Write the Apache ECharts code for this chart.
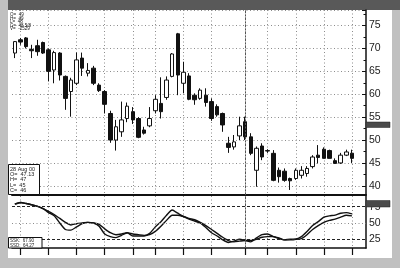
<!DOCTYPE html>
<html><head><meta charset="utf-8">
<script src="https://cdn.jsdelivr.net/npm/echarts@6/dist/echarts.min.js"></script>
<style>html,body{margin:0;padding:0;background:#c0c0c0}#c{width:400px;height:268px}</style>
</head><body><div id="c"></div>
<script>
// ---- data ----
const dates = ['2 Jun 00','5 Jun 00','6 Jun 00','7 Jun 00','8 Jun 00','9 Jun 00','12 Jun 00','13 Jun 00','14 Jun 00','15 Jun 00','16 Jun 00',
  '19 Jun 00','20 Jun 00','21 Jun 00','22 Jun 00','23 Jun 00','26 Jun 00','27 Jun 00','28 Jun 00','29 Jun 00','30 Jun 00',
  '3 Jul 00','5 Jul 00','6 Jul 00','7 Jul 00','10 Jul 00','11 Jul 00','12 Jul 00','13 Jul 00','14 Jul 00',
  '17 Jul 00','18 Jul 00','19 Jul 00','20 Jul 00','21 Jul 00','24 Jul 00','25 Jul 00','26 Jul 00','27 Jul 00','28 Jul 00',
  '31 Jul 00','1 Aug 00','2 Aug 00','3 Aug 00','4 Aug 00','7 Aug 00','8 Aug 00','9 Aug 00','10 Aug 00','11 Aug 00',
  '14 Aug 00','15 Aug 00','16 Aug 00','17 Aug 00','18 Aug 00','21 Aug 00','22 Aug 00','23 Aug 00','24 Aug 00','25 Aug 00','28 Aug 00'];
const opens  = [69.0,71.9,72.3,69.8,70.6,71.3,69.7,65.3,69.0,63.9,60.6,62.4,67.9,64.6,65.7,62.0,60.6,55.8,50.0,51.8,54.7,56.2,54.7,52.2,53.1,56.4,58.0,59.3,63.9,73.2,62.4,64.0,59.8,59.1,59.8,58.4,57.3,55.8,49.3,48.5,50.9,54.0,50.7,43.4,48.7,47.7,47.1,43.4,43.2,41.6,41.6,42.3,42.7,44.2,46.7,48.0,47.7,45.5,45.0,46.7,47.13];
const closes = [71.5,71.4,70.4,69.5,69.3,69.0,65.0,69.1,64.2,59.1,63.1,67.5,65.7,65.2,62.4,60.8,57.8,50.0,52.9,54.4,57.4,54.4,50.6,51.5,54.7,58.9,56.2,63.1,68.8,64.2,64.8,58.9,58.8,60.9,58.2,54.7,55.5,53.3,48.4,49.6,53.1,50.7,47.1,48.2,46.3,47.6,41.2,42.0,41.2,41.1,43.4,43.4,43.8,46.3,46.2,46.0,46.0,44.9,46.7,47.4,46.0];
const lows   = [67.9,70.8,70.0,67.9,68.4,68.8,62.8,62.4,63.0,56.6,55.1,62.0,64.0,63.9,62.0,60.5,55.8,49.4,47.7,50.7,53.9,53.5,50.4,51.2,52.8,55.8,54.7,58.8,63.7,59.8,60.2,58.7,57.7,58.8,57.3,54.2,55.1,51.8,47.2,47.9,50.0,50.0,46.7,39.8,45.6,47.2,41.0,40.7,40.9,39.1,41.3,41.6,42.0,43.8,44.9,46.0,46.0,44.9,44.8,46.5,45.0];
const highs  = [71.6,72.3,72.5,70.8,71.9,71.5,70.0,69.5,69.2,64.1,63.6,69.1,69.1,66.8,66.2,62.4,60.9,56.4,54.4,58.4,58.2,57.2,55.0,52.9,57.2,59.8,63.7,63.9,69.0,73.4,67.1,64.6,60.2,61.3,61.3,59.1,57.8,56.0,50.7,51.1,55.1,55.1,51.5,48.6,49.3,48.0,47.8,44.0,43.8,41.8,43.8,44.3,44.3,46.7,48.9,48.4,47.9,46.0,47.2,47.9,47.9];
const stochK = [79,81.5,80,78,75.5,72.5,66,61,50,40,39,44,49,51,50,45,33,29,27.5,31,35,30,30,30,34,44,52,62,70,65,60,56,53,50,43,35,30,24,20,22,25,23,21,27,32,33,29,26,24,24,25,29,37,46,52,59,61,62,65,66,64];
const stochD = [79,81.5,80,78,76,72,68,63,57,51,47,49,50,51,50,48,41,35,32,33,35,33,32,31,32,37,45,54,62,62,60,57,55,51,46,40,34,28,23,21,22,23,23,25,28,29,29,27,24,25,25,26,32,40,46,51,54,56,59,62,61];
const weekTicks = [1,6,11,16,21,25,30,35,41,45,50,55,60];
const monthStarts = [41];
const oscLevels = [75,50,25];
const infoTop = ['O=  49','H=  49','L=  48','C=  48 5/8','V=  -2529'];
const infoBar = ['28 Aug 00','O=  47.13','H=  47','L=  45','C=  46'];
const infoOsc = ['SSK:  67.90','SSD:  64.27'];

// ---- chart ----
const axisCats = dates.concat(['', ' ']);
const isWeek = (i) => weekTicks.indexOf(i) >= 0;
const dotted = {color:'#8c8c8c', width:1, type:[1,2.5]};
const gridLine = {show:true, interval:(i)=>isWeek(i), alignWithLabel:true, lineStyle:dotted};
const FONT = 'Liberation Sans';
const monthLines = monthStarts.map(i => ({xAxis: dates[i], label:{show:false}, lineStyle:{color:'#555', width:1, type:[2,1.5]}}));

const chart = echarts.init(document.getElementById('c'), null, {renderer:'canvas'});
function textLines(lines, x, y0, dy, size, z){
  return lines.map((t,k)=>({type:'text', x:x, y:y0+k*dy, z:z, silent:true,
    style:{text:t, fill:'#222', fontSize:size, fontFamily:FONT, align:'left', verticalAlign:'top'}}));
}
const option = {
  animation:false,
  backgroundColor:'transparent',
  grid:[{left:12, right:34, top:10, height:185}, {left:12, right:34, top:196, height:52}],
  xAxis:[
    {type:'category', gridIndex:0, data:axisCats, boundaryGap:true,
     axisLine:{show:true, lineStyle:{color:'#111', width:2}}, axisTick:{show:false}, axisLabel:{show:false}, splitLine:gridLine},
    {type:'category', gridIndex:1, data:axisCats, boundaryGap:true,
     axisLine:{show:true, lineStyle:{color:'#111', width:1.5}},
     axisTick:{show:true, inside:false, length:7, alignWithLabel:true, interval:(i)=>isWeek(i), lineStyle:{color:'#111', width:1.2}},
     axisLabel:{show:false}, splitLine:gridLine}
  ],
  yAxis:[
    {type:'value', gridIndex:0, position:'right', min:38, max:78.4, splitNumber:8, scale:true,
     axisLine:{show:true, lineStyle:{color:'#111', width:1.5}},
     axisTick:{show:true, inside:true, length:4, lineStyle:{color:'#111'}},
     minorTick:{show:true, splitNumber:2, length:2.5, lineStyle:{color:'#111'}},
     axisLabel:{showMinLabel:false, showMaxLabel:false, margin:3, color:'#222', fontSize:10.5, fontFamily:FONT},
     splitLine:{show:true, lineStyle:dotted}},
    {type:'value', gridIndex:1, position:'right', min:11.5, max:91.5, scale:true,
     axisLine:{show:true, lineStyle:{color:'#111', width:1.5}},
     axisTick:{show:false}, axisLabel:{show:false}, splitLine:{show:false}}
  ],
  series:[
    {type:'candlestick', xAxisIndex:0, yAxisIndex:0, barWidth:4,
     data: dates.map((d,i)=>[opens[i], closes[i], lows[i], highs[i]]),
     itemStyle:{color:'#ffffff', color0:'#111111', borderColor:'#111111', borderColor0:'#111111', borderWidth:1},
     markLine:{silent:true, symbol:'none', animation:false, data:monthLines}},
    {type:'line', name:'SSK', xAxisIndex:1, yAxisIndex:1, data:stochK, symbol:'none', smooth:0.2,
     lineStyle:{color:'#111', width:1.4},
     markLine:{silent:true, symbol:'none', animation:false,
       label:{position:'end', distance:3, color:'#222', fontSize:10.5, fontFamily:FONT, formatter:(p)=>String(p.value)},
       data: oscLevels.map(v => ({yAxis:v, lineStyle: v===50 ? dotted : {color:'#222', width:1, type:[3,2]}})).concat(monthLines)}},
    {type:'line', name:'SSD', xAxisIndex:1, yAxisIndex:1, data:stochD, symbol:'none', smooth:0.2,
     lineStyle:{color:'#111', width:1.4}}
  ],
  graphic:[
    {type:'rect', shape:{x:8, y:10, width:384, height:248}, style:{fill:'#ffffff'}, z:-10, silent:true},
    {type:'rect', shape:{x:8, y:0, width:392, height:10}, style:{fill:'#595959'}, z:-9, silent:true},
    {type:'rect', shape:{x:366, y:122, width:24, height:5.5}, style:{fill:'#4a4a4a', stroke:'#222', lineWidth:0.5}, z:50, silent:true},
    {type:'rect', shape:{x:366, y:200.5, width:24, height:6.5}, style:{fill:'#4a4a4a', stroke:'#222', lineWidth:0.5}, z:50, silent:true},
    {type:'rect', shape:{x:8.5, y:164.5, width:31, height:30}, style:{fill:'#fff', stroke:'#111', lineWidth:1}, z:60, silent:true},
    {type:'rect', shape:{x:8.5, y:237.5, width:33.5, height:10.5}, style:{fill:'#fff', stroke:'#111', lineWidth:1}, z:60, silent:true}
  ].concat(textLines(infoTop, 10, 12.5, 3.5, 4.5, 61))
   .concat(textLines(infoBar, 10, 166.5, 5.2, 5.5, 61))
   .concat(textLines(infoOsc, 10, 238.5, 4.4, 4.5, 61))
};
chart.setOption(option);
</script></body></html>
